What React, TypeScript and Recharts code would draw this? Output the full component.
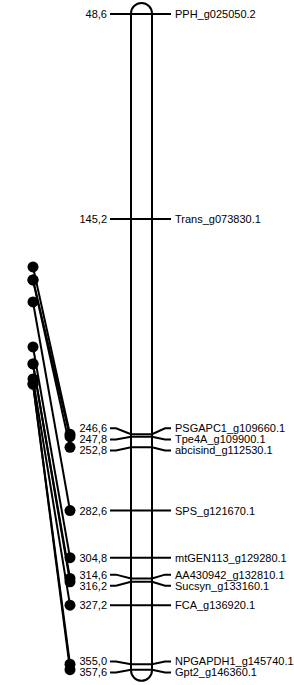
import { ComposedChart, Line, ReferenceArea, Scatter, XAxis, YAxis } from 'recharts';

// linkage group: marker names and positions (cM)
const markers = [
  'PPH_g025050.2', 'Trans_g073830.1', 'PSGAPC1_g109660.1', 'Tpe4A_g109900.1',
  'abcisind_g112530.1', 'SPS_g121670.1', 'mtGEN113_g129280.1', 'AA430942_g132810.1',
  'Sucsyn_g133160.1', 'FCA_g136920.1', 'NPGAPDH1_g145740.1', 'Gpt2_g146360.1',
];
const positions = [48.6, 145.2, 246.6, 247.8, 252.8, 282.6, 304.8, 314.6, 316.2, 327.2, 355.0, 357.6];
// position of the same marker on the compared map (null = not shared)
const linkedPos: (number | null)[] = [null, null, 167.8, 173.9, 173.9, 184.3, 205.5, 213.5, 213.5, 220.6, 223.0, 223.0];

const W = 294;
const H = 685;
const Y_DOMAIN: [number, number] = [42, 364.8];
const GAP = 5.2; // min spacing between labels, in cM units
const FONT = '"Liberation Sans", Arial, sans-serif';

const CHR_L = 131;
const CHR_R = 152;
const TICK_L = 110;
const TICK_R = 171;
const LINK_L = 33;
const LINK_R = 70;

// spread overlapping labels around the mean of their group
function spread(pos: number[], gap: number) {
  const groups = pos.map((p, i) => ({ start: i, n: 1, sum: p }));
  let merged = true;
  while (merged) {
    merged = false;
    for (let i = 1; i < groups.length; i++) {
      const a = groups[i - 1];
      const b = groups[i];
      const aEnd = a.sum / a.n + ((a.n - 1) / 2) * gap;
      const bStart = b.sum / b.n - ((b.n - 1) / 2) * gap;
      if (bStart - aEnd < gap) {
        groups.splice(i - 1, 2, { start: a.start, n: a.n + b.n, sum: a.sum + b.sum });
        merged = true;
        break;
      }
    }
  }
  const out: number[] = [];
  groups.forEach((g) => {
    const c = g.sum / g.n;
    for (let k = 0; k < g.n; k++) out.push(c + (k - (g.n - 1) / 2) * gap);
  });
  return out;
}

const labelPos = spread(positions, GAP);
const fmt = (v: number) => v.toFixed(1).replace('.', ',');

const leftLabels = positions.map((p, i) => ({ x: TICK_L - 3, y: labelPos[i], t: fmt(p) }));
const rightLabels = positions.map((p, i) => ({ x: TICK_R + 4, y: labelPos[i], t: markers[i] }));
const linked = positions
  .map((p, i) => ({ p, lp: linkedPos[i] }))
  .filter((d) => d.lp !== null) as { p: number; lp: number }[];

function TextShape(anchor: 'start' | 'end') {
  return (props: any) => (
    <text
      x={props.cx}
      y={props.cy}
      dy="0.36em"
      textAnchor={anchor}
      fontSize={11}
      fontFamily={FONT}
      fill="#000"
    >
      {props.payload.t}
    </text>
  );
}

const dotShape = (props: any) => <circle cx={props.cx} cy={props.cy} r={5.5} fill="#000" />;

export default function App() {
  return (
    <div style={{ position: 'absolute', left: 0, top: 0, background: '#fff' }}>
      <ComposedChart width={W} height={H} margin={{ top: 0, right: 0, bottom: 0, left: 0 }}>
        <XAxis type="number" dataKey="x" domain={[0, W]} hide />
        <YAxis type="number" dataKey="y" domain={Y_DOMAIN} reversed hide />
        <ReferenceArea
          x1={CHR_L}
          x2={CHR_R}
          y1={positions[0] - GAP}
          y2={positions[positions.length - 1] + GAP}
          ifOverflow="visible"
          shape={(p: any) => (
            <rect
              x={p.x}
              y={p.y}
              width={p.width}
              height={p.height}
              rx={p.width / 2}
              ry={p.width / 2}
              fill="none"
              stroke="#000"
              strokeWidth={2}
            />
          )}
        />
        {positions.map((p, i) => (
          <Line
            key={'t' + i}
            data={[
              { x: TICK_L, y: labelPos[i] },
              { x: TICK_L + 6, y: labelPos[i] },
              { x: CHR_L, y: p },
              { x: CHR_R, y: p },
              { x: TICK_R - 6, y: labelPos[i] },
              { x: TICK_R, y: labelPos[i] },
            ]}
            dataKey="y"
            type="linear"
            stroke="#000"
            strokeWidth={2}
            dot={false}
            activeDot={false}
            isAnimationActive={false}
          />
        ))}
        {linked.map((d, i) => (
          <Line
            key={'l' + i}
            data={[
              { x: LINK_L, y: d.lp },
              { x: LINK_R, y: d.p },
            ]}
            dataKey="y"
            type="linear"
            stroke="#000"
            strokeWidth={2}
            dot={false}
            activeDot={false}
            isAnimationActive={false}
          />
        ))}
        <Scatter
          data={linked.map((d) => ({ x: LINK_L, y: d.lp }))}
          shape={dotShape}
          isAnimationActive={false}
        />
        <Scatter
          data={linked.map((d) => ({ x: LINK_R, y: d.p }))}
          shape={dotShape}
          isAnimationActive={false}
        />
        <Scatter data={leftLabels} shape={TextShape('end')} isAnimationActive={false} />
        <Scatter data={rightLabels} shape={TextShape('start')} isAnimationActive={false} />
      </ComposedChart>
    </div>
  );
}
